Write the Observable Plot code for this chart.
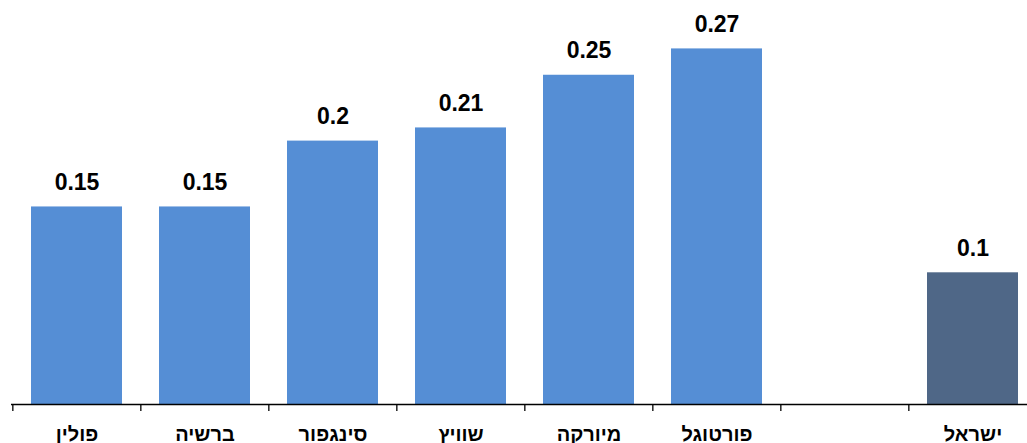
<!DOCTYPE html>
<html>
<head>
<meta charset="utf-8">
<script src="https://cdn.jsdelivr.net/npm/d3@7"></script>
<script src="https://cdn.jsdelivr.net/npm/@observablehq/plot@0.6"></script>
<style>
  html, body { margin: 0; padding: 0; background: #fff; overflow: hidden; }
  #chart svg { display: block; }
</style>
</head>
<body>
<div id="chart"></div>
<script>
const categories = ["פולין", "ברשיה", "סינגפור", "שוויץ", "מיורקה", "פורטוגל", "", "ישראל"];
const values = [0.15, 0.15, 0.2, 0.21, 0.25, 0.27, null, 0.1];
const highlight = ["ישראל"];

const data = categories
  .map((c, i) => ({category: c, value: values[i]}))
  .filter(d => d.value != null);

const W = 1027, H = 443;
const x0 = 11, x1 = 1037.6;
const step = (x1 - x0) / categories.length;
const pxPerUnit = 1317;
const yMax = 404 / pxPerUnit;
const tickLen = 7 / pxPerUnit;

const chart = Plot.plot({
  width: W,
  height: H,
  marginTop: 0,
  marginBottom: 39,
  marginLeft: 11,
  marginRight: 0,
  style: {fontFamily: "'Liberation Sans', Arial, sans-serif", background: "#fff", overflow: "visible"},
  x: {domain: categories, range: [x0, x1], paddingInner: 0.29, paddingOuter: 0.145, axis: null},
  y: {type: "linear", domain: [0, yMax], range: [404, 0], axis: null},
  marks: [
    Plot.barY(data, {
      x: "category", y: "value",
      fill: d => highlight.includes(d.category) ? "#4f6787" : "#558ed5"
    }),
    Plot.text(data, {
      x: "category", y: "value", text: d => String(d.value),
      dy: -17, lineAnchor: "bottom", fontSize: 23, fontWeight: "bold", fill: "#000"
    }),
    Plot.ruleY([0], {stroke: "#000", strokeWidth: 1.3}),
    Plot.ruleX(categories, {
      x: d => d, dx: -step / 2, y1: 0, y2: -tickLen, stroke: "#000", strokeWidth: 1.3
    }),
    Plot.text(categories, {
      x: d => d, frameAnchor: "bottom", dy: 36.5, lineAnchor: "bottom",
      fontSize: 20, fontWeight: "bold", fill: "#000"
    })
  ]
});
document.getElementById("chart").appendChild(chart);
</script>
</body>
</html>
